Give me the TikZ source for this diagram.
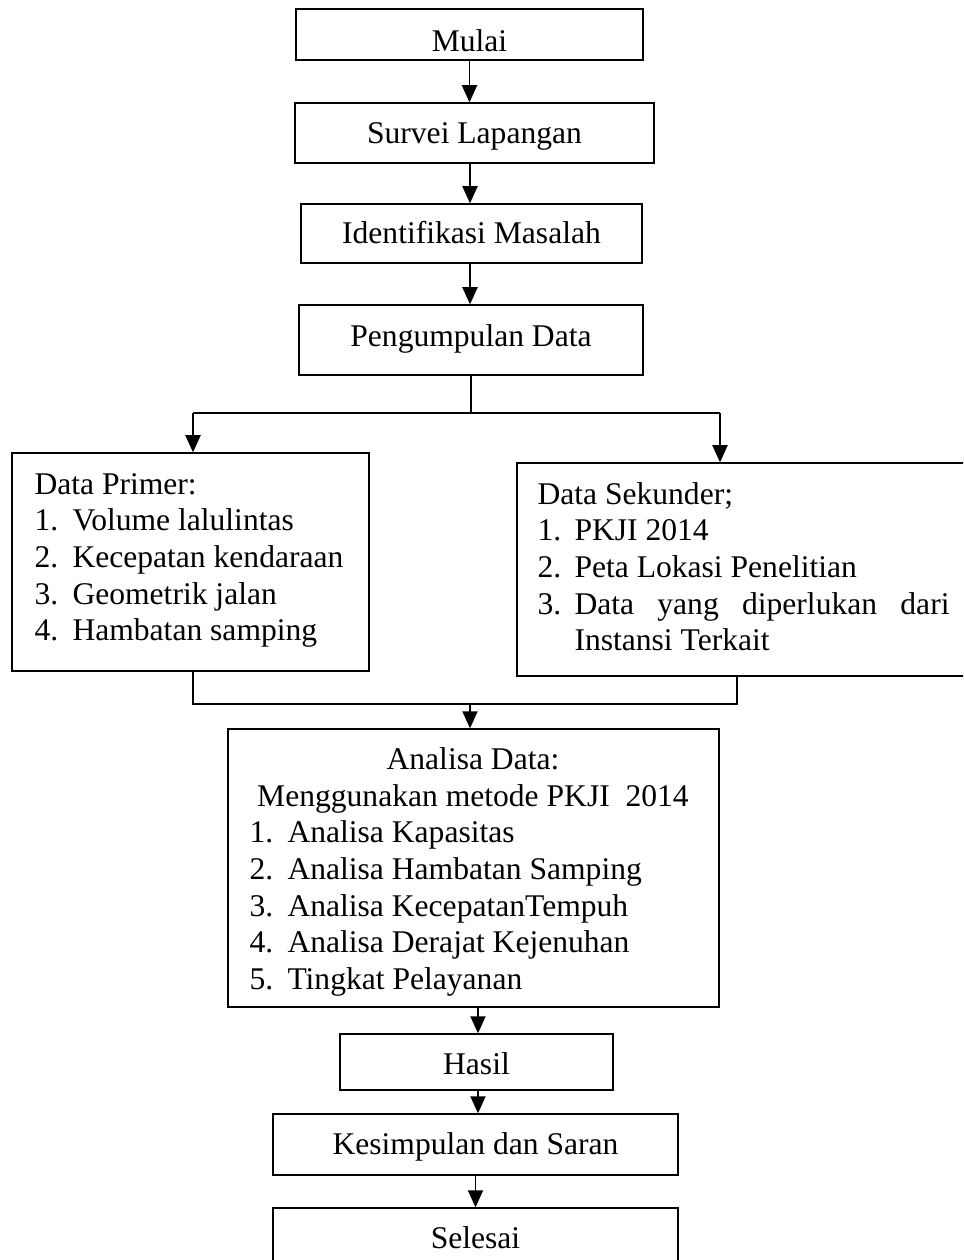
\documentclass[tikz,border=0pt]{standalone}
\usepackage{fontspec}
\setmainfont{Liberation Serif}
\usetikzlibrary{arrows.meta}

\tikzset{
	kotak/.style={draw, line width=0.5pt, inner sep=0pt, text height=7.9pt, text depth=0pt,
		font=\fontsize{12}{14}\selectfont},
	ukuran/.style 2 args={minimum width=#1*0.38pt, minimum height=#2*0.38pt},
	baris/.style={anchor=base west, inner sep=0pt, font=\fontsize{12}{14}\selectfont},
	garis/.style={line width=0.7pt},
	panah/.style={line width=0.75pt, -{Triangle[length=6.5pt,width=5.7pt]}},
}

\begin{document}
\begin{tikzpicture}[x=0.38pt, y=-0.38pt]
		\useasboundingbox (0,0) rectangle (963,1260);
		\clip (0,0) rectangle (963,1260);

		% kotak alur utama
		\node[kotak, ukuran={347}{51}, text height=12.9pt] (mulai) at (469.5,34.5) {Mulai};
		\node[kotak, ukuran={359}{60}] (survei) at (474.5,133) {Survei Lapangan};
		\node[kotak, ukuran={341}{59}] (identifikasi) at (471.5,233.5) {Identifikasi Masalah};
		\node[kotak, ukuran={344}{70}, text height=4.9pt] (pengumpulan) at (471,340) {Pengumpulan Data};
		\node[kotak, ukuran={357}{218}] (primer) at (190.5,562) {};
		\node[kotak, ukuran={458}{213}] (sekunder) at (746,569.5) {};
		\node[kotak, ukuran={491}{278}] (analisa) at (473.5,868) {};
		\node[kotak, ukuran={273}{56}, text height=9.4pt] (hasil) at (476.5,1062) {Hasil};
		\node[kotak, ukuran={405}{61}] (kesimpulan) at (475.5,1144.5) {Kesimpulan dan Saran};
		\node[kotak, ukuran={405}{64}, text height=6.4pt] (selesai) at (475.5,1240) {Selesai};

		% isi data primer
		\node[baris] (primer-judul) at (34,494) {Data Primer:};
		\foreach \t [count=\i] in {Volume lalulintas, Kecepatan kendaraan, Geometrik jalan, Hambatan samping} {
			\node[baris] (primer-no\i) at (34,494+\i*36.7) {\i.};
			\node[baris] (primer-\i) at (72,494+\i*36.7) {\t};
		}

		% isi data sekunder
		\node[baris] (sekunder-judul) at (537,504) {Data Sekunder;};
		\foreach \t [count=\i] in {PKJI 2014, Peta Lokasi Penelitian} {
			\node[baris] (sekunder-no\i) at (537,504+\i*36.7) {\i.};
			\node[baris] (sekunder-\i) at (574,504+\i*36.7) {\t};
		}
		\node[baris] (sekunder-no3) at (537,614.1) {3.};
		\node[baris] (sekunder-3) at (574,614.1) {\hbox to 142.5pt{Data\hfill yang\hfill diperlukan\hfill dari}};
		\node[baris] (sekunder-4) at (574,650.8) {Instansi Terkait};

		% isi analisa
		\node[baris, anchor=base] (analisa-judul) at (473,769) {Analisa Data:};
		\node[baris, anchor=base] (analisa-metode) at (473,806) {Menggunakan metode PKJI\ \ 2014};
		\foreach \t [count=\i] in {Analisa Kapasitas, Analisa Hambatan Samping, Analisa KecepatanTempuh,
			Analisa Derajat Kejenuhan, Tingkat Pelayanan} {
			\node[baris] (analisa-no\i) at (249,806+\i*36.7) {\i.};
			\node[baris] (analisa-\i) at (287,806+\i*36.7) {\t};
		}

		% penghubung
		\coordinate (sumbu) at (470,0);
		\coordinate (sumbubawah) at (478,0);
		\coordinate (cabang) at (470,413);
		\coordinate (kiri) at (193,413);
		\coordinate (kanan) at (720,413);
		\coordinate (gabung) at (470,704);
		\coordinate (gabungkanan) at (737,704);

		\draw[panah] (mulai.south) -- (mulai.south |- survei.north);
		\draw[panah] (sumbu |- survei.south) -- (sumbu |- identifikasi.north);
		\draw[panah] (sumbu |- identifikasi.south) -- (sumbu |- pengumpulan.north);
		\draw[garis] (pengumpulan.south) -- (pengumpulan.south |- cabang);
		\draw[garis] (kiri) -- (kanan);
		\draw[panah] (kiri) -- (kiri |- primer.north);
		\draw[panah] (kanan) -- (kanan |- sekunder.north);
		\draw[garis] (kiri |- primer.south) |- (gabungkanan) -- (gabungkanan |- sekunder.south);
		\draw[panah] (gabung) -- (gabung |- analisa.north);
		\draw[panah] (sumbubawah |- analisa.south) -- (sumbubawah |- hasil.north);
		\draw[panah] (sumbubawah |- hasil.south) -- (sumbubawah |- kesimpulan.north);
		\draw[panah] (kesimpulan.south) -- (kesimpulan.south |- selesai.north);
	\end{tikzpicture}
\end{document}
